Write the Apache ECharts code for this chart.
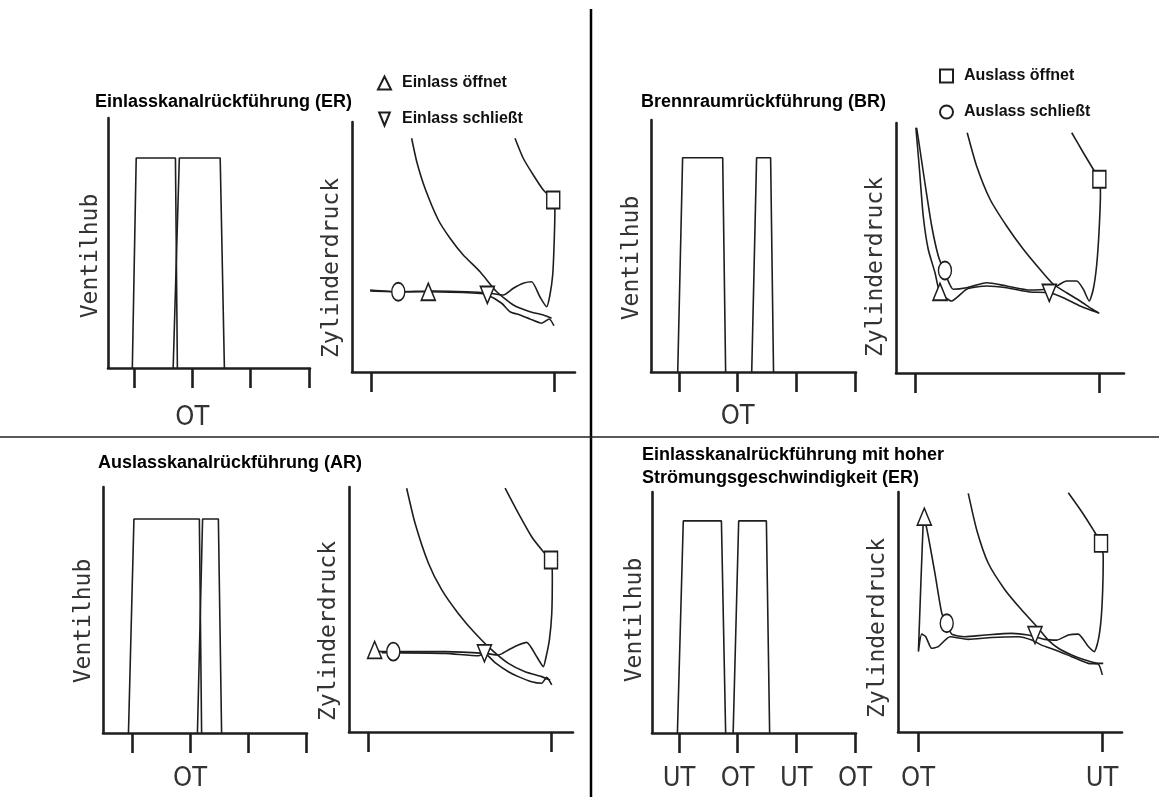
<!DOCTYPE html>
<html>
<head>
<meta charset="utf-8">
<script src="https://cdn.jsdelivr.net/npm/echarts@6/dist/echarts.min.js"></script>
<style>
  html, body { margin: 0; background: #fff; }
  #chart { width: 1159px; height: 797px; }
</style>
</head>
<body>
<div id="chart"></div>
<script>
// Achsen
const valveTicks = [-180, 0, 180, 360];
const valveTickNames = ['UT', 'OT', 'UT', 'OT'];
const pressureTicks = [0, 100];
const pressureTickNames = ['OT', 'UT'];

const titles = [
  'Einlasskanalrückführung (ER)',
  'Brennraumrückführung (BR)',
  'Auslasskanalrückführung (AR)',
  'Einlasskanalrückführung mit hoher\nStrömungsgeschwindigkeit (ER)'
];
const markNames = ['Auslass öffnet', 'Auslass schließt', 'Einlass öffnet', 'Einlass schließt'];

// Ventilhub: [Kurbelwinkel °KW, Hub rel.]
const erHub1 = [[-185, 0], [-173, 0.84], [-52, 0.84], [-46, 0]];
const erHub2 = [[-59, 0], [-40, 0.84], [86, 0.84], [99, 0]];
const brHub1 = [[-184, 0], [-169, 0.85], [-46, 0.85], [-37, 0]];
const brHub2 = [[43, 0], [58, 0.85], [101, 0.85], [110, 0]];
const arHub1 = [[-191, 0], [-174, 0.87], [29, 0.87], [36, 0]];
const arHub2 = [[23, 0], [39, 0.87], [88, 0.87], [98, 0]];
const er2Hub1 = [[-185, 0], [-167, 0.88], [-50, 0.88], [-37, 0]];
const er2Hub2 = [[-14, 0], [3, 0.88], [88, 0.88], [98, 0]];

// Zylinderdruck: [Volumen % (OT=0, UT=100), Druck rel.]
const erAusschub = [[78.7, 93.5], [83.2, 85.5], [88.7, 78.8], [94.2, 72.8], [99.6, 68.8], [100.5, 64.1], [100, 49.5], [99.3, 38.8], [97.8, 30.8], [96, 26.1], [92.3, 30.1], [87.8, 36.1], [83.2, 35.5], [77.8, 33.5], [72.3, 30.8], [65, 31.5], [52.3, 32.1], [34.1, 32.4], [14.9, 32.1], [-0.5, 32.8]];
const erAnsaugen = [[-0.5, 32.4], [14.9, 32.1], [31.3, 32.1], [57.8, 31.5], [63.6, 30.8], [71.4, 27.5], [76, 24.1], [81.4, 22.8], [86.9, 21.2], [93.3, 19.5], [97.4, 21.2], [100, 18.5]];
const erVerdichtung = [[22.2, 93.5], [25, 84.1], [29.5, 73.5], [36.8, 60.8], [43.2, 53.5], [50.4, 46.8], [59.6, 40.1], [68.7, 32.1], [77.8, 26.8], [86.9, 24.1], [94.2, 22.8], [98.7, 21.5]];
const erAuslassOeffnet = [[99.6, 68.8]];
const erAuslassSchliesst = [[14.9, 32.1]];
const erEinlassOeffnet = [[31.3, 32.1]];
const erEinlassSchliesst = [[63.6, 30.8]];

const brAusschub = [[85.2, 96.1], [91.5, 88.1], [96.9, 81.5], [100.2, 77.5], [100.8, 72.1], [100, 56.1], [98.7, 42.8], [96.9, 33.5], [94.7, 28.8], [91.5, 33.5], [87.9, 36.8], [82.4, 36.8], [77, 34.8], [71.6, 33.5], [62.5, 33.2], [49.8, 34.8], [39, 36.1], [28.1, 34.1], [20.8, 33.5], [16.3, 40.1], [12.7, 46.8], [9.1, 58.8], [5.4, 76.1], [2.7, 89.5], [0.9, 98.1]];
const brAnsaugen = [[0.5, 98.1], [2.3, 82.8], [4.5, 62.8], [7.2, 49.5], [10.9, 40.1], [13.6, 32.1], [19.9, 28.8], [28.1, 33.5], [39, 34.8], [49.8, 34.1], [62.5, 32.4], [73, 32.1], [80.6, 30.1], [89.7, 26.8], [96.9, 24.8], [100.2, 23.9]];
const brVerdichtung = [[28.4, 96.1], [33.5, 82.8], [40.8, 69.5], [49.8, 58.8], [58.9, 49.5], [67.9, 41.5], [75.2, 35.5], [82.4, 32.1], [89.7, 28.8], [96, 25.7], [99.6, 24.1]];
const brAuslassOeffnet = [[100.2, 77.5]];
const brAuslassSchliesst = [[16.3, 41]];
const brEinlassOeffnet = [[13.6, 32.5]];
const brEinlassSchliesst = [[73, 32]];

const arAusschub = [[74.9, 99.5], [82.1, 89.3], [89.4, 79.7], [95.8, 73.6], [100, 70.2], [100.7, 63.4], [100.4, 48.4], [99.1, 37.6], [97.3, 30.7], [95.8, 26.7], [92.2, 30.7], [86.7, 36.6], [82.1, 35.5], [76.7, 33.5], [71.2, 31.4], [63.9, 32.1], [42.1, 32.8], [18.4, 32.8], [13.8, 32.8], [7.5, 32.8], [3.6, 33.2]];
const arAnsaugen = [[7.5, 32.4], [42.1, 32.1], [60.3, 31.1], [63.6, 32.1], [69.4, 28.3], [76.7, 24.6], [82.1, 22.6], [89.4, 20.5], [94.9, 19.9], [97.6, 22.3], [100.4, 19.2]];
const arVerdichtung = [[21.1, 99.5], [25.7, 85.2], [33, 68.9], [40.3, 58], [49.3, 48.4], [58.5, 40.3], [67.6, 33.5], [76.7, 28], [85.8, 24.6], [94.9, 22.6], [99.5, 21.2]];
const arAuslassOeffnet = [[100, 70.2]];
const arAuslassSchliesst = [[13.8, 32.8]];
const arEinlassOeffnet = [[3.6, 33.5]];
const arEinlassSchliesst = [[63.6, 32.1]];

const er2Ausschub = [[81.7, 99.7], [89, 91.8], [95.3, 84.2], [99.5, 78.6], [100.7, 73.1], [100.4, 59.2], [99.5, 46.7], [98, 38.3], [95.8, 33.5], [92.6, 35.6], [87.1, 40.8], [81.7, 40.4], [75.4, 38.3], [69, 38.6], [59.9, 40.4], [50.9, 41.1], [36.4, 40.4], [25.5, 39.7], [18.3, 40.8], [15.6, 45.3], [12.9, 49.5], [9.2, 66.1], [5.6, 81.4], [3.4, 89.7]];
const er2Ansaugen = [[2.9, 89.3], [1.6, 63.3], [0.2, 33.5], [2, 40.8], [4.2, 39.7], [7.4, 34.9], [11, 35.6], [17.4, 39.7], [27.3, 38.6], [40, 39.4], [54.5, 39.7], [61.8, 38.3], [67.2, 36.2], [74.5, 34.2], [83.5, 31.4], [92.6, 28.6], [98, 28.3], [100.2, 23.8]];
const er2Verdichtung = [[27.3, 99.4], [31.9, 84.2], [38.2, 70.3], [47.3, 59.2], [56.4, 50.8], [65.4, 43.2], [70.8, 38.3], [76.3, 34.9], [83.5, 32.1], [90.8, 30], [98, 28.6], [100.7, 28.6]];
const er2AuslassOeffnet = [[99.5, 78.6]];
const er2AuslassSchliesst = [[15.6, 45.3]];
const er2EinlassOeffnet = [[3.4, 89.7]];
const er2EinlassSchliesst = [[63.6, 40.4]];

// Layout je Quadrant
const panels = [
  {
    hub: [erHub1, erHub2], druck: [erAusschub, erAnsaugen, erVerdichtung],
    marks: [erAuslassOeffnet, erAuslassSchliesst, erEinlassOeffnet, erEinlassSchliesst],
    title: { left: 95, top: 91 },
    vGrid: { left: 108, top: 118, width: 202, height: 250 }, vRange: [-260, 363], vLabels: [0], vMargin: 36,
    pGrid: { left: 352, top: 122, width: 223, height: 250 }, pRange: [-10.4, 111.5], pLabels: [], pMargin: 32,
    names: [[91, 256], [332, 268]]
  },
  {
    hub: [brHub1, brHub2], druck: [brAusschub, brAnsaugen, brVerdichtung],
    marks: [brAuslassOeffnet, brAuslassSchliesst, brEinlassOeffnet, brEinlassSchliesst],
    title: { left: 641, top: 91 },
    vGrid: { left: 651, top: 120, width: 205, height: 252 }, vRange: [-266, 363], vLabels: [0], vMargin: 31,
    pGrid: { left: 896, top: 123, width: 228, height: 250 }, pRange: [-10.3, 113.6], pLabels: [], pMargin: 32,
    names: [[632, 258], [876, 267]]
  },
  {
    hub: [arHub1, arHub2], druck: [arAusschub, arAnsaugen, arVerdichtung],
    marks: [arAuslassOeffnet, arAuslassSchliesst, arEinlassOeffnet, arEinlassSchliesst],
    title: { left: 98, top: 452 },
    vGrid: { left: 103, top: 487, width: 204, height: 246 }, vRange: [-270, 363], vLabels: [0], vMargin: 32,
    pGrid: { left: 349, top: 487, width: 224, height: 245 }, pRange: [-10.4, 112], pLabels: [], pMargin: 32,
    names: [[84, 621], [329, 631]]
  },
  {
    hub: [er2Hub1, er2Hub2], druck: [er2Ausschub, er2Ansaugen, er2Verdichtung],
    marks: [er2AuslassOeffnet, er2AuslassSchliesst, er2EinlassOeffnet, er2EinlassSchliesst],
    title: { left: 642, top: 444 },
    vGrid: { left: 652, top: 492, width: 204, height: 241 }, vRange: [-263, 363], vLabels: valveTicks, vMargin: 32,
    pGrid: { left: 898, top: 492, width: 224, height: 240 }, pRange: [-10.9, 110.9], pLabels: pressureTicks, pMargin: 33,
    names: [[635, 620], [878, 628]]
  }
];

const ink = '#1e1e1e';
const labelFont = "'Liberation Sans Narrow', 'DejaVu Sans Condensed', sans-serif";
// Dreieck nach unten als eigener Pfad, damit auch die Legende es richtig zeigt
const downTriangle = 'path://M0,0L14,0L7,17Z';
const markSymbols = ['rect', 'circle', 'triangle', downTriangle];
const markSizes = [[13, 17], [13, 18], [14, 17], [14, 17]];

const grid = [], xAxis = [], yAxis = [], series = [], title = [];
const graphic = [
  { type: 'line', shape: { x1: 591, y1: 9, x2: 591, y2: 797 }, style: { stroke: '#000', lineWidth: 2.5 } },
  { type: 'line', shape: { x1: 0, y1: 437, x2: 1159, y2: 437 }, style: { stroke: '#222', lineWidth: 1.5 } }
];

function addAxes(g, range, ymax, ticks, tickNames, labels, margin) {
  const idx = grid.length;
  grid.push(Object.assign({ containLabel: false }, g));
  xAxis.push({
    gridIndex: idx, type: 'value', min: range[0], max: range[1],
    axisLine: { show: true, onZero: false, lineStyle: { color: ink, width: 2.6 } },
    axisTick: { show: true, length: 20, customValues: ticks, lineStyle: { color: ink, width: 2.6 } },
    axisLabel: {
      show: labels.length > 0, customValues: labels, margin: margin,
      formatter: v => tickNames[ticks.indexOf(v)],
      fontFamily: labelFont, fontSize: 27, lineHeight: 27, color: '#333'
    },
    splitLine: { show: false }
  });
  yAxis.push({
    gridIndex: idx, type: 'value', min: 0, max: ymax,
    axisLine: { show: true, onZero: false, lineStyle: { color: ink, width: 2.6 } },
    axisTick: { show: false }, axisLabel: { show: false }, splitLine: { show: false }
  });
  return idx;
}

panels.forEach((p, i) => {
  title.push({
    text: titles[i], left: p.title.left, top: p.title.top, padding: 0,
    textStyle: { fontFamily: "'Liberation Sans', Arial, sans-serif", fontWeight: 'bold', fontSize: 18, lineHeight: 23, color: '#000' }
  });

  const v = addAxes(p.vGrid, p.vRange, 1, valveTicks, valveTickNames, p.vLabels, p.vMargin);
  p.hub.forEach((d, k) => series.push({
    name: 'Ventilhub ' + (k + 1), type: 'line', xAxisIndex: v, yAxisIndex: v, data: d,
    symbol: 'none', lineStyle: { color: ink, width: 1.6 }, z: 3
  }));

  const c = addAxes(p.pGrid, p.pRange, 100, pressureTicks, pressureTickNames, p.pLabels, p.pMargin);
  p.druck.forEach((d, k) => series.push({
    name: ['Ausschieben', 'Ansaugen', 'Verdichten'][k], type: 'line', xAxisIndex: c, yAxisIndex: c, data: d,
    symbol: 'none', smooth: 0.2, lineStyle: { color: ink, width: 1.6 }, z: 3
  }));
  p.marks.forEach((d, k) => series.push({
    name: markNames[k], type: 'scatter', xAxisIndex: c, yAxisIndex: c, data: d,
    symbol: markSymbols[k], symbolSize: markSizes[k],
    itemStyle: { color: '#fff', borderColor: ink, borderWidth: 1.6, opacity: 1 }, z: 5
  }));

  graphic.push(
    { type: 'text', x: p.names[0][0], y: p.names[0][1], rotation: Math.PI / 2,
      style: { text: 'Ventilhub', fontFamily: "'DejaVu Sans Mono', monospace", fontSize: 23, fill: '#333', align: 'center', verticalAlign: 'middle' } },
    { type: 'text', x: p.names[1][0], y: p.names[1][1], rotation: Math.PI / 2,
      style: { text: 'Zylinderdruck', fontFamily: "'DejaVu Sans Mono', monospace", fontSize: 23, fill: '#333', align: 'center', verticalAlign: 'middle' } }
  );
});

const legendText = { fontFamily: "'Liberation Sans', Arial, sans-serif", fontWeight: 'bold', fontSize: 16, lineHeight: 16, color: '#111', padding: [0, 0, 0, 6] };
const legend = [
  { data: ['Einlass öffnet', 'Einlass schließt'], orient: 'vertical', left: 377, top: 75, itemGap: 20,
    itemWidth: 13, itemHeight: 13, padding: 0, selectedMode: false, textStyle: legendText },
  { data: ['Auslass öffnet', 'Auslass schließt'], orient: 'vertical', left: 939, top: 68, itemGap: 20,
    itemWidth: 13, itemHeight: 13, padding: 0, selectedMode: false, textStyle: legendText }
];

const chart = echarts.init(document.getElementById('chart'));
chart.setOption({
  animation: false,
  backgroundColor: '#fff',
  title, legend, grid, xAxis, yAxis, series, graphic
});
</script>
</body>
</html>
